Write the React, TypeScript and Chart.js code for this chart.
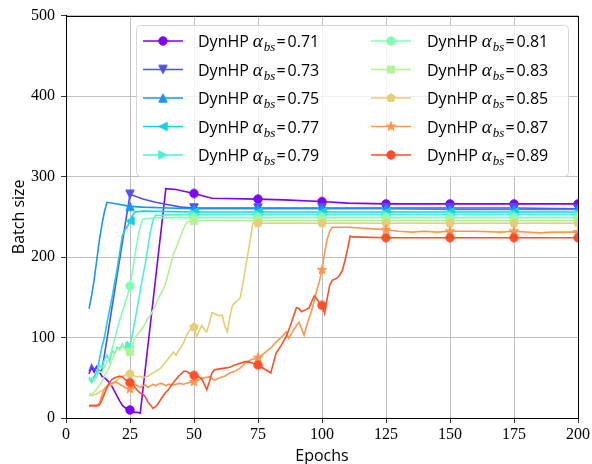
import React, { useEffect, useRef } from 'react';
import { Chart, registerables } from 'chart.js';
Chart.register(...registerables);

type P = [number, number];

const alphaLabels = ['0.71', '0.73', '0.75', '0.77', '0.79', '0.81', '0.83', '0.85', '0.87', '0.89'];
const seriesColors = ['#8000ff', '#4d4ffc', '#1a96f2', '#1acee3', '#4df3ce', '#80ffb4', '#b3f396', '#e6ce74', '#ff964f', '#ff4f28'];
const markerShapes = ['circle', 'triDown', 'triUp', 'triLeft', 'triRight', 'circle', 'square', 'pentagon', 'star', 'circle'];
const xTicks = [0, 25, 50, 75, 100, 125, 150, 175, 200];
const yTicks = [0, 100, 200, 300, 400, 500];

const s071: P[] = [[9,55],[10,63],[11,57],[12,64],[13,58],[14,52],[15,50],[16,47],[17,44],[18,39],[19,33],[20,27],[21,21],[22,16],[23,13],[24,11],[25,10],[26,8],[27,7],[28,7],[29,6],[39,285],[43,284],[50,279],[57,273],[75,272],[85,271],[100,269],[110,267],[125,266],[150,266],[175,266],[200,266]];
const s073: P[] = [[9,58],[10,66],[11,60],[12,64],[13,56],[14,60],[15,78],[16,98],[17,118],[18,138],[19,158],[20,178],[21,198],[22,218],[23,238],[24,258],[25,278],[30,272],[35,268],[40,265],[45,262],[50,261],[75,261],[100,261],[125,261],[150,261],[175,261],[200,260]];
const s075: P[] = [[9,136],[10,152],[11,172],[12,196],[13,220],[14,240],[15,256],[16,268],[20,266],[25,263],[30,262],[40,261],[50,260],[75,260],[100,260],[125,260],[150,259],[175,259],[200,259]];
const s077: P[] = [[9,50],[10,46],[11,52],[12,56],[13,72],[14,88],[15,100],[16,118],[17,134],[18,150],[19,168],[20,186],[21,206],[22,226],[23,234],[24,238],[25,245],[26,252],[27,256],[30,257],[50,256],[75,256],[100,256],[125,256],[150,256],[175,256],[200,256]];
const s079: P[] = [[9,48],[10,44],[11,50],[12,54],[13,66],[14,62],[15,72],[16,78],[17,70],[18,84],[19,80],[20,88],[21,86],[22,92],[23,86],[24,94],[25,89],[26,105],[27,122],[28,140],[29,158],[30,176],[31,192],[32,212],[33,232],[34,246],[35,252],[50,253],[75,253],[100,253],[125,253],[150,253],[175,253],[200,253]];
const s081: P[] = [[9,46],[10,50],[11,46],[12,52],[13,58],[14,56],[15,64],[16,70],[17,76],[18,86],[19,98],[20,110],[21,122],[22,132],[23,142],[24,152],[25,164],[26,184],[27,204],[28,222],[29,238],[30,247],[35,249],[50,249],[75,249],[100,249],[125,249],[150,249],[175,249],[200,249]];
const s083: P[] = [[9,30],[10,30],[11,32],[12,36],[13,40],[14,45],[15,52],[16,58],[17,64],[18,72],[19,80],[20,86],[21,84],[22,90],[23,86],[24,84],[25,82],[26,92],[27,100],[28,104],[29,108],[30,112],[31,118],[32,124],[33,128],[34,134],[35,140],[36,148],[37,154],[38,160],[39,168],[40,180],[41,192],[42,204],[43,211],[44,220],[45,228],[46,236],[47,242],[48,244],[50,245],[75,245],[100,245],[125,245],[150,245],[175,245],[200,245]];
const s085: P[] = [[9,28],[10,28],[11,29],[12,30],[13,32],[14,34],[15,36],[16,38],[17,40],[18,42],[19,44],[20,47],[21,50],[22,52],[23,53],[24,55],[25,55],[26,53],[27,52],[28,51],[29,52],[30,50],[31,51],[32,52],[33,54],[34,56],[35,58],[36,60],[37,62],[38,66],[39,70],[40,74],[41,78],[42,82],[43,78],[44,84],[45,88],[46,94],[47,102],[48,108],[49,112],[50,113],[51,101],[52,108],[53,115],[54,110],[55,107],[56,118],[57,131],[58,130],[59,128],[60,127],[61,128],[62,115],[63,107],[64,125],[65,140],[66,143],[67,146],[68,149],[69,165],[70,184],[71,203],[72,222],[73,242],[75,242],[100,242],[125,242],[150,242],[175,242],[200,242]];
const s087: P[] = [[9,16],[10,16],[11,16],[12,16],[13,18],[14,28],[15,36],[16,40],[17,42],[18,43],[19,45],[20,44],[21,42],[22,40],[23,38],[24,37],[25,36],[26,40],[27,42],[28,40],[29,38],[30,40],[31,41],[32,38],[33,40],[34,42],[35,40],[36,42],[37,43],[38,42],[39,40],[40,42],[42,41],[44,43],[46,42],[48,44],[50,45],[52,48],[54,50],[56,51],[58,47],[60,50],[62,52],[64,56],[66,58],[68,62],[70,68],[72,72],[74,74],[75,75],[76,77],[78,82],[80,87],[82,94],[84,100],[86,107],[87,99],[89,110],[91,119],[93,103],[94,115],[96,134],[98,159],[99,170],[100,184],[101,205],[102,222],[103,232],[104,237],[110,237],[115,236],[120,235],[125,234],[130,232],[135,231],[140,232],[145,231],[150,232],[160,232],[170,231],[175,232],[185,230],[190,231],[200,231]];
const s089: P[] = [[9,15],[10,15],[11,15],[12,15],[13,16],[14,22],[15,30],[16,38],[17,44],[18,48],[19,50],[20,51],[21,52],[22,51],[23,48],[24,46],[25,44],[26,42],[27,38],[28,34],[29,31],[30,30],[31,26],[32,20],[33,16],[34,12],[35,14],[36,18],[37,23],[38,28],[39,32],[40,35],[41,40],[42,44],[43,48],[44,52],[45,55],[46,58],[47,58],[48,56],[49,55],[50,53],[51,52],[52,51],[53,49],[54,42],[55,35],[56,45],[57,56],[58,60],[60,61],[62,62],[64,63],[66,66],[68,68],[70,70],[71,70],[72,69],[74,67],[75,66],[76,64],[78,60],[80,56],[81,68],[82,80],[84,90],[86,101],[88,118],[90,137],[91,136],[92,132],[94,135],[95,137],[96,145],[97,152],[98,148],[99,143],[100,140],[101,130],[102,148],[103,165],[104,171],[106,174],[107,178],[108,184],[109,196],[110,210],[111,226],[112,225],[125,224],[150,224],[175,224],[200,224]];

const allSeries = [s071, s073, s075, s077, s079, s081, s083, s085, s087, s089];

function makeMarker(shape: string, color: string): HTMLCanvasElement {
  const size = 14;
  const c = document.createElement('canvas');
  c.width = size; c.height = size;
  const g = c.getContext('2d')!;
  const cx = size / 2, cy = size / 2;
  g.fillStyle = color; g.strokeStyle = color; g.lineWidth = 1; g.lineJoin = 'miter';
  g.beginPath();
  const poly = (pts: number[][]) => {
    pts.forEach(([x, y], i) => (i ? g.lineTo(cx + x, cy + y) : g.moveTo(cx + x, cy + y)));
    g.closePath();
  };
  const r = 4.2;
  switch (shape) {
    case 'circle': g.arc(cx, cy, 4.2, 0, Math.PI * 2); break;
    case 'triDown': poly([[-r, -r], [r, -r], [0, r]]); break;
    case 'triUp': poly([[-r, r], [r, r], [0, -r]]); break;
    case 'triLeft': poly([[r, -r], [r, r], [-r, 0]]); break;
    case 'triRight': poly([[-r, -r], [-r, r], [r, 0]]); break;
    case 'square': poly([[-3.6, -3.6], [3.6, -3.6], [3.6, 3.6], [-3.6, 3.6]]); break;
    case 'pentagon': {
      const pts: number[][] = [];
      for (let k = 0; k < 5; k++) {
        const a = -Math.PI / 2 + (k * 2 * Math.PI) / 5;
        pts.push([4.4 * Math.cos(a), 4.4 * Math.sin(a)]);
      }
      poly(pts); break;
    }
    case 'star': {
      const pts: number[][] = [];
      for (let k = 0; k < 10; k++) {
        const a = -Math.PI / 2 + (k * Math.PI) / 5;
        const rr = k % 2 === 0 ? 5 : 2.0;
        pts.push([rr * Math.cos(a), rr * Math.sin(a)]);
      }
      poly(pts); break;
    }
  }
  g.fill(); g.stroke();
  return c;
}

const SANS = '"Open Sans", "DejaVu Sans", sans-serif';
const SERIF = '"Liberation Serif", "DejaVu Serif", serif';

export default function App() {
  const ref = useRef<HTMLCanvasElement | null>(null);
  useEffect(() => {
    document.body.style.margin = '0';
    const canvas = ref.current!;
    const markers = seriesColors.map((c, i) => makeMarker(markerShapes[i], c));

    const framePlugin = {
      id: 'frame',
      afterDatasetsDraw(chart: any) {
        const { ctx, chartArea: a } = chart;
        ctx.save();
        ctx.strokeStyle = '#000';
        ctx.lineWidth = 1;
        ctx.strokeRect(Math.round(a.left) + 0.5, Math.round(a.top) + 0.5, Math.round(a.right - a.left), Math.round(a.bottom - a.top));
        ctx.restore();
      },
    };

    const legendPlugin = {
      id: 'customLegend',
      afterDraw(chart: any) {
        const ctx: CanvasRenderingContext2D = chart.ctx;
        ctx.save();
        const bx = 136.5, by = 25.5, bw = 432, bh = 151, rad = 4;
        ctx.beginPath();
        ctx.moveTo(bx + rad, by);
        ctx.arcTo(bx + bw, by, bx + bw, by + bh, rad);
        ctx.arcTo(bx + bw, by + bh, bx, by + bh, rad);
        ctx.arcTo(bx, by + bh, bx, by, rad);
        ctx.arcTo(bx, by, bx + bw, by, rad);
        ctx.closePath();
        ctx.fillStyle = 'rgba(255,255,255,0.8)';
        ctx.fill();
        ctx.strokeStyle = '#d6d6d6';
        ctx.lineWidth = 1;
        ctx.stroke();

        const rowsY = [41, 69.5, 98, 126.5, 155];
        const colLine = [143, 371];
        const colText = [198, 427];
        for (let i = 0; i < alphaLabels.length; i++) {
          const col = i < 5 ? 0 : 1;
          const y = rowsY[i % 5];
          const lx = colLine[col];
          ctx.strokeStyle = seriesColors[i];
          ctx.lineWidth = 1.6;
          ctx.beginPath();
          ctx.moveTo(lx, y);
          ctx.lineTo(lx + 40, y);
          ctx.stroke();
          const m = markers[i];
          ctx.drawImage(m, lx + 20 - m.width / 2, y - m.height / 2);

          let x = colText[col];
          ctx.fillStyle = '#000';
          ctx.textBaseline = 'alphabetic';
          ctx.textAlign = 'left';
          const base = y + 6;
          ctx.font = `16px ${SANS}`;
          ctx.fillText('DynHP', x, base);
          x += ctx.measureText('DynHP').width + 4;
          ctx.font = `italic 19px ${SERIF}`;
          ctx.fillText('α', x, base);
          x += ctx.measureText('α').width + 1;
          ctx.font = `italic 13px ${SERIF}`;
          ctx.fillText('bs', x, base + 4);
          x += ctx.measureText('bs').width + 1;
          ctx.font = `16px ${SANS}`;
          ctx.fillText('=', x, base);
          x += ctx.measureText('=').width + 2;
          ctx.fillText(alphaLabels[i], x, base);
        }
        ctx.restore();
      },
    };

    const datasets = allSeries.map((s, i) => ({
      label: 'DynHP α=' + alphaLabels[i],
      data: s.map(([x, y]) => ({ x, y })),
      borderColor: seriesColors[i],
      backgroundColor: seriesColors[i],
      borderWidth: 1.6,
      tension: 0,
      pointStyle: markers[i] as any,
      pointRadius: (c: any) => (c.raw && c.raw.x % 25 === 0 ? 4.5 : 0),
      pointHoverRadius: 0,
      order: allSeries.length - i,
    }));

    const chart = new Chart(canvas, {
      type: 'line',
      data: { datasets },
      plugins: [framePlugin, legendPlugin],
      options: {
        animation: false,
        responsive: false,
        devicePixelRatio: 1,
        events: [],
        layout: { padding: { top: 15, right: 14, left: 0, bottom: 0 } },
        plugins: { legend: { display: false }, tooltip: { enabled: false } },
        scales: {
          x: {
            type: 'linear',
            min: 0,
            max: 200,
            afterBuildTicks: (s: any) => { s.ticks = xTicks.map((v) => ({ value: v })); },
            afterFit: (s: any) => { s.height = 46; },
            ticks: { color: '#000', font: { family: SERIF, size: 16 }, padding: 2, maxRotation: 0, autoSkip: false },
            grid: { color: '#b0b0b0', lineWidth: 0.8, tickColor: '#000', tickLength: 5, drawTicks: true },
            border: { color: '#000', width: 1 },
            title: { display: true, text: 'Epochs', color: '#000', font: { family: SANS, size: 16 }, padding: { top: 0, bottom: -2 } },
          },
          y: {
            type: 'linear',
            min: 0,
            max: 500,
            afterBuildTicks: (s: any) => { s.ticks = yTicks.map((v) => ({ value: v })); },
            afterFit: (s: any) => { s.width = 66; },
            ticks: { color: '#000', font: { family: SERIF, size: 16 }, padding: 6 },
            grid: { color: '#b0b0b0', lineWidth: 0.8, tickColor: '#000', tickLength: 5, drawTicks: true },
            border: { color: '#000', width: 1 },
            title: { display: true, text: 'Batch size', color: '#000', font: { family: SANS, size: 16 }, padding: { top: 10, bottom: 0 } },
          },
        },
      } as any,
    });
    return () => chart.destroy();
  }, []);
  return (
    <div style={{ width: 592, height: 464 }}>
      <canvas ref={ref} width={592} height={464} style={{ display: 'block', width: 592, height: 464 }} />
    </div>
  );
}
